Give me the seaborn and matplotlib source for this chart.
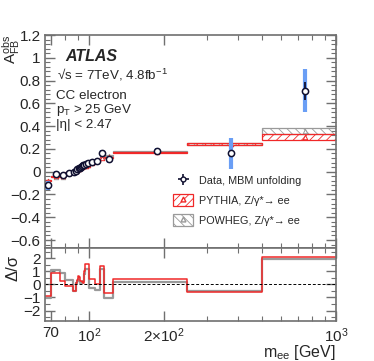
import numpy as np
import pandas as pd
import matplotlib
matplotlib.use("Agg")
import matplotlib.pyplot as plt
from matplotlib.patches import Patch
from matplotlib.lines import Line2D
import seaborn as sns

# bins in m_ee [GeV]
edges = [66, 70, 76, 80, 86, 88, 89, 90, 91, 92, 93, 94, 95, 96, 98, 100, 105, 110, 115, 125, 250, 500, 1000]

# measured A_FB (data, MBM unfolding)
afb_data = [-0.12, -0.02, -0.03, -0.01, 0.0, 0.01, 0.02, 0.03, 0.035, 0.04, 0.05, 0.055,
            0.06, 0.07, 0.075, 0.085, 0.09, 0.16, 0.11, 0.185, 0.16, 0.71]
err_tot = [0.04, 0.025, 0.02, 0.015, 0.012, 0.012, 0.012, 0.012, 0.012, 0.012, 0.012, 0.012,
           0.012, 0.015, 0.015, 0.02, 0.025, 0.03, 0.03, 0.025, 0.14, 0.19]
err_stat = [0.015, 0.01, 0.008, 0.006, 0.005, 0.005, 0.005, 0.005, 0.005, 0.005, 0.005, 0.005,
            0.005, 0.006, 0.006, 0.008, 0.01, 0.012, 0.012, 0.01, 0.03, 0.08]

# predictions
afb_pythia = [-0.08, -0.04, -0.04, -0.01, 0.005, 0.005, 0.015, 0.022, 0.03, 0.037, 0.045, 0.05,
              0.05, 0.05, 0.055, 0.075, 0.09, 0.12, 0.125, 0.17, 0.245, 0.305]
unc_pythia = [0.006, 0.005, 0.005, 0.005, 0.004, 0.004, 0.004, 0.004, 0.004, 0.004, 0.004, 0.004,
              0.004, 0.004, 0.004, 0.005, 0.005, 0.006, 0.006, 0.005, 0.008, 0.025]
afb_powheg = [-0.08, -0.045, -0.045, -0.015, 0.005, 0.005, 0.015, 0.025, 0.031, 0.039, 0.048, 0.052,
              0.05, 0.053, 0.058, 0.09, 0.1, 0.125, 0.14, 0.18, 0.245, 0.355]
unc_powheg = [0.006, 0.005, 0.005, 0.005, 0.004, 0.004, 0.004, 0.004, 0.004, 0.004, 0.004, 0.004,
              0.004, 0.004, 0.004, 0.005, 0.005, 0.006, 0.006, 0.005, 0.008, 0.025]

# pulls Delta/sigma
pull_pythia = [-0.9, 0.85, 0.26, -0.13, -0.5, 0.1, 0.35, 0.64, 0.6, 0.3, 0.2, 0.1,
               1.0, 1.54, 1.54, 0.44, 0.0, 1.4, -0.64, 0.44, -0.56, 2.1]
pull_powheg = [-1.03, 1.1, 0.9, 0.38, -0.5, 0.1, 0.3, 0.4, 0.3, 0.1, 0.1, 0.3,
               0.8, 1.15, 1.15, -0.26, -0.4, 1.15, -1.03, 0.2, -0.5, 1.92]

sns.set_style("ticks")
plt.rcParams['font.family'] = ['Liberation Sans', 'DejaVu Sans']
plt.rcParams['mathtext.fontset'] = 'custom'
plt.rcParams['mathtext.rm'] = 'Liberation Sans'
plt.rcParams['mathtext.it'] = 'Liberation Sans:italic'
plt.rcParams['mathtext.bf'] = 'Liberation Sans:bold'
plt.rcParams['hatch.linewidth'] = 0.6

RED = '#f02828'
GRAY = '#9a9a9a'
BLUE = '#6a9ef5'
FRAME = '#707070'

lo = np.array(edges[:-1], dtype=float)
hi = np.array(edges[1:], dtype=float)
centers = (lo + hi) / 2

fig = plt.figure(figsize=(3.74, 3.61), dpi=100)
ax1 = fig.add_axes([0.120, 0.313, 0.778, 0.590])
ax2 = fig.add_axes([0.120, 0.111, 0.778, 0.202], sharex=ax1)

# ---- main panel
def mc_bands(ax, val, unc, color, hatch):
    val = np.array(val); unc = np.array(unc)
    ax.bar(lo, 2 * unc, bottom=val - unc, width=hi - lo, align='edge', fill=False,
           edgecolor=color, hatch=hatch, linewidth=0.9, zorder=2)

mc_bands(ax1, afb_powheg, unc_powheg, GRAY, '\\\\\\\\')
mc_bands(ax1, afb_pythia, unc_pythia, RED, '////')
sns.scatterplot(x=centers, y=afb_powheg, marker='^', color='white', edgecolor=GRAY,
                s=10, linewidth=0.7, ax=ax1, zorder=3)
sns.scatterplot(x=centers, y=afb_pythia, marker='^', color='white', edgecolor=RED,
                s=10, linewidth=0.7, ax=ax1, zorder=3)

ax1.errorbar(centers, afb_data, yerr=err_tot, fmt='none', ecolor=BLUE, elinewidth=3, zorder=4)
ax1.errorbar(centers, afb_data, yerr=err_stat, fmt='none', ecolor='#101030', elinewidth=1.3, zorder=5)
sns.scatterplot(x=centers, y=afb_data, marker='o', color='white', edgecolor='#101030',
                s=20, linewidth=1.1, ax=ax1, zorder=6)

ax1.set_xscale('log')
ax1.set_xlim(66, 1000)
ax1.set_ylim(-0.67, 1.2)
ax1.set_yticks(np.arange(-0.6, 1.21, 0.2))
ax1.set_yticklabels(['\u22120.6', '\u22120.4', '\u22120.2', '0', '0.2', '0.4', '0.6', '0.8', '1', '1.2'])
ax1.set_yticks(np.arange(-0.64, 1.2, 0.04), minor=True)
ax1.set_ylabel('A$^{\\mathregular{obs}}_{\\mathregular{FB}}$', fontsize=11, loc='top')
ax1.yaxis.set_label_coords(-0.077, 1.0)

ax1.text(0.069, 0.898, 'ATLAS', transform=ax1.transAxes, fontsize=11.5, fontweight='bold',
         fontstyle='italic', va='center')
ax1.text(0.041, 0.812, '\u221as = 7TeV, 4.8fb$^{-1}$', transform=ax1.transAxes,
         fontsize=9.6, va='center')
ax1.text(0.038, 0.712, 'CC electron', transform=ax1.transAxes, fontsize=9.6, va='center')
ax1.text(0.038, 0.648, 'p$_\\mathregular{T}$ > 25 GeV', transform=ax1.transAxes, fontsize=9.6, va='center')
ax1.text(0.038, 0.577, '|\u03b7| < 2.47', transform=ax1.transAxes, fontsize=9.6, va='center')

# legend
h_data = ax1.errorbar([], [], xerr=[], yerr=[], fmt='o', color='#101030', mfc='white', mec='#101030',
                      ms=3.5, elinewidth=1.2)
h_py = (Patch(facecolor='none', edgecolor=RED, hatch='////', linewidth=0.9),
        Line2D([], [], marker='^', color=RED, mfc='white', ms=3.5, ls='none'))
h_pw = (Patch(facecolor='none', edgecolor=GRAY, hatch='\\\\\\\\', linewidth=0.9),
        Line2D([], [], marker='^', color=GRAY, mfc='white', ms=3.5, ls='none'))
ax1.legend([h_data, h_py, h_pw],
           ['Data, MBM unfolding', 'PYTHIA, Z/\u03b3*\u2192 ee', 'POWHEG, Z/\u03b3*\u2192 ee'],
           loc='upper left', bbox_to_anchor=(0.44, 0.345), frameon=False, fontsize=7.8,
           handlelength=1.9, handleheight=1.3, handletextpad=0.5, labelspacing=0.75,
           borderpad=0, borderaxespad=0)

# ---- ratio panel
step_py = pd.DataFrame({'m': edges, 'pull': pull_pythia + [pull_pythia[-1]]})
step_pw = pd.DataFrame({'m': edges, 'pull': pull_powheg + [pull_powheg[-1]]})
sns.lineplot(data=step_pw, x='m', y='pull', drawstyle='steps-post', color=GRAY, linewidth=1.6,
             estimator=None, ax=ax2)
sns.lineplot(data=step_py, x='m', y='pull', drawstyle='steps-post', color=RED, linewidth=1.1,
             estimator=None, ax=ax2)
ax2.axhline(0, color='black', linestyle=(0, (3, 2)), linewidth=0.7)
ax2.set_ylim(-2.8, 2.8)
ax2.set_yticks([-2, -1, 0, 1, 2])
ax2.set_yticklabels(['\u22122', '\u22121', '0', '1', '2'])
ax2.set_yticks(np.arange(-2.5, 2.8, 0.5), minor=True)
ax2.set_ylabel('\u0394/\u03c3', fontsize=12)
ax2.yaxis.set_label_coords(-0.085, 0.72)
ax2.set_xlabel('m$_{\\mathregular{ee}}$ [GeV]', fontsize=11.5, loc='right')
ax2.xaxis.set_label_coords(1.0, -0.30)

ax2.set_xscale('log')
ax2.set_xlim(66, 1000)
ax2.set_xticks([70, 100, 200, 1000])
ax2.set_xticklabels(['70', '10$^2$', '2\u00d710$^2$', '10$^3$'])
ax2.set_xticks([80, 90, 300, 400, 500, 600, 700, 800, 900], minor=True)
ax2.xaxis.set_minor_formatter(matplotlib.ticker.NullFormatter())
plt.setp(ax1.get_xticklabels(), visible=False)

for ax in (ax1, ax2):
    for s in ax.spines.values():
        s.set_color(FRAME)
        s.set_linewidth(1.2)
    ax.tick_params(which='both', direction='in', top=True, right=True, color=FRAME,
                   labelsize=11, pad=3)
    ax.tick_params(which='major', length=7, width=1)
    ax.tick_params(which='minor', length=3.5, width=0.8)
ax2.tick_params(axis='x', which='major', pad=4)
ax1.tick_params(axis='x', which='minor', bottom=True, top=True)

fig.savefig('out.png', dpi=100)
